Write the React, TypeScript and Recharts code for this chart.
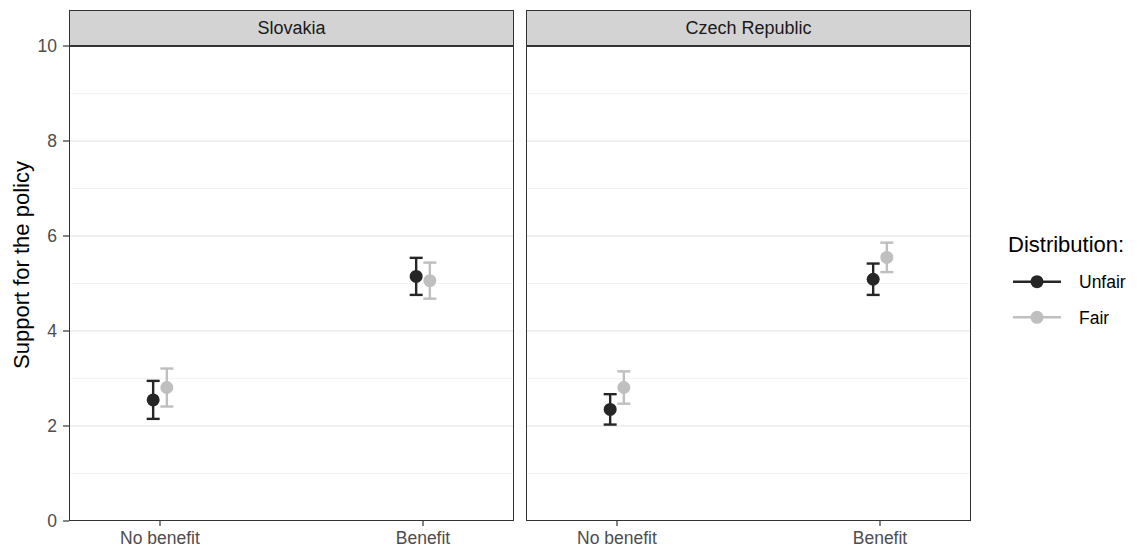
import { ScatterChart, Scatter, XAxis, YAxis, CartesianGrid, ErrorBar, Label } from 'recharts';

const countries = ['Slovakia', 'Czech Republic'];
const benefitLevels = ['No benefit', 'Benefit'];
const yTicks = [0, 2, 4, 6, 8, 10];
const minorTicks = [1, 3, 5, 7, 9];

// means per country, in benefitLevels order
const unfairMeans = [
  [2.55, 5.15],
  [2.35, 5.09],
];
const unfairErr = [
  [0.4, 0.39],
  [0.32, 0.33],
];
const fairMeans = [
  [2.81, 5.06],
  [2.81, 5.55],
];
const fairErr = [
  [0.4, 0.38],
  [0.34, 0.31],
];

const UNFAIR = '#262626';
const FAIR = '#bfbfbf';
const DODGE = 0.026;
const FONT = 'Liberation Sans, Arial, sans-serif';

const PLOT_TOP = 46;
const PLOT_H = 475;
const PLOT_W = 445;
const PANEL_LEFT = [69, 526];

const buildSeries = (means: number[][], errs: number[][], c: number, shift: number) =>
  benefitLevels.map((b, i) => ({ x: i + 1 + shift, y: means[c][i], err: errs[c][i], level: b }));

const tickStyle = { fontSize: 17.5, fill: '#4d4d4d', fontFamily: FONT };

const Panel = ({ c }: { c: number }) => {
  const first = c === 0;
  const unfair = buildSeries(unfairMeans, unfairErr, c, -DODGE);
  const fair = buildSeries(fairMeans, fairErr, c, DODGE);
  const chartLeft = first ? 0 : PANEL_LEFT[1];
  const yw = first ? PANEL_LEFT[0] : 0;
  const titleY = 265;
  return (
    <div style={{ position: 'absolute', left: chartLeft, top: 0 }}>
      <ScatterChart
        width={yw + PLOT_W + 6}
        height={554}
        margin={{ top: PLOT_TOP, right: 6, bottom: 3, left: 0 }}
      >
        <CartesianGrid vertical={false} horizontalValues={minorTicks} stroke="#f0f0f0" strokeWidth={0.8} />
        <CartesianGrid vertical={false} horizontalValues={[2, 4, 6, 8]} stroke="#ebebeb" strokeWidth={1.4} />
        <XAxis
          type="number"
          dataKey="x"
          domain={[0.654, 2.346]}
          ticks={[1, 2]}
          tickFormatter={(v: number) => benefitLevels[Math.round(v) - 1]}
          axisLine={false}
          tickLine={{ stroke: '#333333', strokeWidth: 1.2 }}
          tickSize={5}
          tickMargin={6}
          height={30}
          tick={tickStyle}
          allowDataOverflow
        />
        <YAxis
          type="number"
          dataKey="y"
          domain={[0, 10]}
          ticks={yTicks}
          hide={!first}
          width={yw}
          axisLine={false}
          tickLine={{ stroke: '#333333', strokeWidth: 1.2 }}
          tickSize={6}
          tickMargin={6}
          tick={tickStyle}
        >
          {first && (
            <Label
              content={() => (
                <text
                  x={21}
                  y={titleY}
                  transform={`rotate(-90 21 ${titleY})`}
                  textAnchor="middle"
                  dominantBaseline="central"
                  fontSize={22}
                  fill="#000"
                  fontFamily={FONT}
                >
                  Support for the policy
                </text>
              )}
            />
          )}
        </YAxis>
        <Scatter data={unfair} dataKey="y" fill={UNFAIR} isAnimationActive={false} shape={(p: any) => <circle cx={p.cx} cy={p.cy} r={6.5} fill={UNFAIR} />}>
          <ErrorBar dataKey="err" direction="y" width={6.5} stroke={UNFAIR} strokeWidth={2.4} />
        </Scatter>
        <Scatter data={fair} dataKey="y" fill={FAIR} isAnimationActive={false} shape={(p: any) => <circle cx={p.cx} cy={p.cy} r={6.5} fill={FAIR} />}>
          <ErrorBar dataKey="err" direction="y" width={6.5} stroke={FAIR} strokeWidth={2.4} />
        </Scatter>
      </ScatterChart>
      {/* panel border + strip */}
      <div
        style={{
          position: 'absolute',
          left: yw,
          top: PLOT_TOP,
          width: PLOT_W,
          height: PLOT_H,
          border: '1.3px solid #333333',
          boxSizing: 'border-box',
          pointerEvents: 'none',
        }}
      />
      <div
        style={{
          position: 'absolute',
          left: yw,
          top: 10,
          width: PLOT_W,
          height: PLOT_TOP - 9,
          background: '#d3d3d3',
          border: '1px solid #333333',
          borderBottomWidth: 2,
          boxSizing: 'border-box',
          display: 'flex',
          alignItems: 'center',
          justifyContent: 'center',
          fontFamily: FONT,
          fontSize: 18,
          color: '#1a1a1a',
        }}
      >
        {countries[c]}
      </div>
    </div>
  );
};

const LegendBox = () => {
  const items = [
    { name: 'Unfair', color: UNFAIR },
    { name: 'Fair', color: FAIR },
  ];
  return (
    <svg style={{ position: 'absolute', left: 1000, top: 220 }} width={137} height={120}>
      <text x={8} y={31.5} fontSize={22} fill="#000" fontFamily={FONT}>
        Distribution:
      </text>
      {items.map((it, i) => (
        <g key={it.name}>
          <line x1={13} x2={61} y1={61.7 + i * 35.6} y2={61.7 + i * 35.6} stroke={it.color} strokeWidth={2.6} />
          <circle cx={37} cy={61.7 + i * 35.6} r={6.5} fill={it.color} />
          <text x={79} y={68 + i * 35.6} fontSize={17.5} fill="#000" fontFamily={FONT}>
            {it.name}
          </text>
        </g>
      ))}
    </svg>
  );
};

export default function App() {
  return (
    <div style={{ position: 'absolute', left: 0, top: 0, width: 1137, height: 554, background: '#fff' }}>
      <Panel c={0} />
      <Panel c={1} />
      <LegendBox />
    </div>
  );
}
